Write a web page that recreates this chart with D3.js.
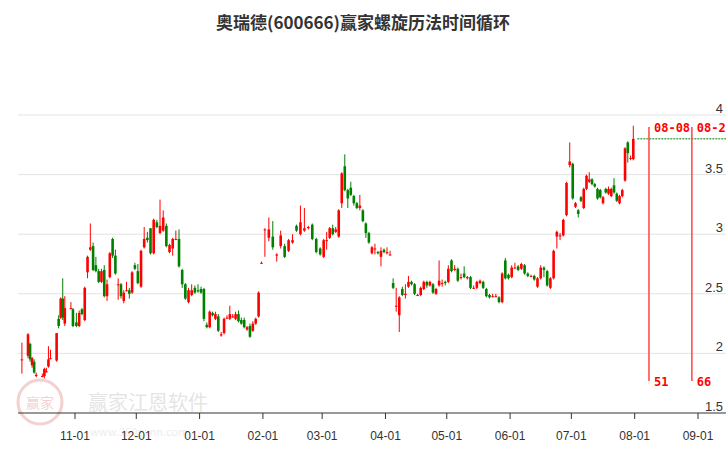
<!DOCTYPE html>
<html><head><meta charset="utf-8">
<script src="https://cdn.jsdelivr.net/npm/d3@7"></script>
<style>body{margin:0;background:#fff}svg{font-family:"Microsoft YaHei","Noto Sans CJK SC",sans-serif}</style>
</head><body><svg id="c" width="726" height="450"></svg>
<script>
const title = "奥瑞德(600666)赢家螺旋历法时间循环";
// candles: open close high low (one per trading day, ending 2024-07-31)
const candles = `1.95 1.95 2.09 1.83|1.98 2.16 2.17 1.96|2.08 1.95 2.09 1.93|1.90 1.96 1.97 1.88|1.93 1.84 1.95 1.83|1.81 1.82 1.84 1.80|1.81 1.81 1.83 1.80|1.81 1.87 1.88 1.79|1.85 1.85 1.88 1.84|1.89 1.95 2.06 1.88|1.96 1.96 2.03 1.95|1.94 2.17 2.17 1.93|2.29 2.23 2.32 2.21|2.30 2.46 2.47 2.29|2.46 2.30 2.63 2.28|2.25 2.38 2.48 2.23|2.38 2.38 2.43 2.37|2.37 2.23 2.38 2.22|2.26 2.23 2.34 2.22|2.23 2.34 2.36 2.22|2.37 2.33 2.38 2.32|2.28 2.55 2.56 2.27|2.68 2.81 2.82 2.63|2.87 2.89 3.09 2.86|2.90 2.70 2.93 2.69|2.74 2.69 2.81 2.68|2.69 2.60 2.71 2.59|2.60 2.69 2.71 2.59|2.70 2.48 2.74 2.47|2.48 2.58 2.62 2.44|2.64 2.84 2.85 2.63|2.96 2.82 2.97 2.80|2.82 2.67 2.87 2.66|2.58 2.58 2.63 2.45|2.58 2.48 2.59 2.46|2.44 2.51 2.53 2.42|2.53 2.53 2.60 2.52|2.53 2.50 2.55 2.46|2.51 2.68 2.69 2.50|2.74 2.71 2.76 2.70|2.69 2.59 2.75 2.58|2.56 2.86 2.87 2.55|2.89 2.96 3.06 2.88|2.97 2.95 3.02 2.93|3.05 2.84 3.05 2.83|2.84 3.12 3.13 2.83|3.10 3.06 3.12 3.05|3.01 3.07 3.29 3.00|3.03 3.14 3.20 3.02|3.07 2.90 3.09 2.89|2.85 2.91 2.92 2.84|2.88 2.96 2.97 2.82|2.96 2.96 3.03 2.95|2.96 2.73 3.04 2.72|2.70 2.58 2.71 2.55|2.58 2.46 2.59 2.45|2.43 2.53 2.55 2.42|2.49 2.53 2.58 2.48|2.55 2.51 2.57 2.50|2.53 2.52 2.58 2.51|2.54 2.51 2.56 2.50|2.54 2.29 2.55 2.27|2.24 2.22 2.26 2.21|2.22 2.35 2.36 2.21|2.34 2.32 2.35 2.31|2.29 2.33 2.35 2.28|2.31 2.19 2.33 2.18|2.15 2.16 2.18 2.14|2.17 2.29 2.30 2.16|2.30 2.30 2.32 2.29|2.29 2.33 2.40 2.28|2.31 2.31 2.33 2.30|2.29 2.33 2.35 2.28|2.33 2.27 2.36 2.26|2.28 2.25 2.30 2.24|2.28 2.22 2.30 2.21|2.20 2.22 2.23 2.19|2.23 2.14 2.25 2.13|2.19 2.25 2.27 2.18|2.25 2.29 2.30 2.24|2.31 2.51 2.52 2.30|2.76 2.76 2.77 2.75|3.04 3.04 3.05 2.81|2.97 3.04 3.14 2.94|2.98 2.89 3.11 2.87|2.82 2.83 2.84 2.77|2.90 2.99 3.03 2.88|2.90 2.81 2.92 2.80|2.86 2.95 2.96 2.85|2.93 2.95 3.00 2.92|3.07 3.03 3.08 3.02|3.00 3.10 3.24 2.99|3.03 3.05 3.22 3.02|3.05 3.06 3.07 3.04|3.08 2.96 3.09 2.95|2.96 2.85 2.97 2.84|2.88 2.83 2.89 2.82|2.81 2.95 2.96 2.80|2.95 2.95 3.02 2.87|2.97 3.05 3.06 2.96|3.05 3.00 3.08 2.99|3.02 3.04 3.06 3.01|2.98 3.20 3.21 2.97|3.26 3.51 3.52 3.22|3.57 3.37 3.67 3.36|3.37 3.30 3.38 3.22|3.39 3.33 3.44 3.32|3.32 3.26 3.33 3.24|3.26 3.22 3.27 3.21|3.22 3.24 3.33 3.20|3.20 3.11 3.21 3.10|3.09 3.01 3.10 2.97|3.01 2.93 3.02 2.92|2.84 2.89 2.90 2.83|2.88 2.88 2.92 2.83|2.85 2.84 2.86 2.83|2.81 2.86 2.89 2.73|2.87 2.85 2.88 2.84|2.84 2.85 2.89 2.83|2.83 2.83 2.86 2.82|2.59 2.55 2.63 2.54|2.40 2.40 2.55 2.35|2.32 2.47 2.48 2.18|2.54 2.49 2.56 2.48|2.49 2.50 2.58 2.46|2.56 2.60 2.65 2.55|2.60 2.58 2.61 2.57|2.58 2.50 2.59 2.49|2.49 2.49 2.50 2.48|2.49 2.55 2.56 2.48|2.54 2.60 2.61 2.53|2.60 2.57 2.61 2.55|2.57 2.60 2.61 2.56|2.58 2.51 2.59 2.50|2.50 2.54 2.55 2.49|2.57 2.61 2.78 2.56|2.59 2.59 2.62 2.56|2.60 2.59 2.61 2.57|2.60 2.71 2.74 2.59|2.78 2.69 2.79 2.68|2.70 2.71 2.74 2.69|2.71 2.61 2.72 2.60|2.64 2.64 2.67 2.62|2.67 2.64 2.73 2.63|2.63 2.64 2.65 2.62|2.64 2.55 2.65 2.54|2.55 2.55 2.57 2.54|2.55 2.60 2.61 2.54|2.59 2.61 2.62 2.58|2.60 2.55 2.61 2.54|2.54 2.48 2.55 2.47|2.49 2.47 2.50 2.46|2.48 2.48 2.50 2.47|2.48 2.48 2.50 2.47|2.47 2.43 2.48 2.42|2.43 2.67 2.68 2.42|2.78 2.63 2.80 2.62|2.66 2.63 2.67 2.62|2.64 2.72 2.74 2.63|2.72 2.72 2.76 2.71|2.73 2.70 2.74 2.69|2.71 2.75 2.76 2.70|2.74 2.67 2.75 2.66|2.67 2.65 2.68 2.64|2.65 2.65 2.66 2.64|2.65 2.62 2.66 2.61|2.56 2.63 2.64 2.55|2.63 2.72 2.74 2.62|2.72 2.70 2.73 2.64|2.69 2.57 2.70 2.56|2.55 2.63 2.64 2.54|2.63 2.86 2.87 2.62|2.98 3.02 3.03 2.88|2.99 2.99 3.01 2.95|2.99 3.12 3.13 2.98|3.16 3.43 3.44 3.15|3.58 3.61 3.77 3.56|3.59 3.30 3.60 3.29|3.23 3.26 3.27 3.22|3.20 3.17 3.21 3.14|3.31 3.28 3.32 3.27|3.22 3.38 3.39 3.21|3.38 3.49 3.50 3.37|3.44 3.46 3.52 3.43|3.46 3.42 3.47 3.41|3.42 3.40 3.43 3.39|3.38 3.30 3.39 3.29|3.37 3.31 3.38 3.30|3.26 3.31 3.32 3.25|3.38 3.35 3.39 3.34|3.34 3.38 3.40 3.33|3.32 3.38 3.39 3.31|3.41 3.35 3.47 3.34|3.34 3.28 3.35 3.27|3.26 3.32 3.33 3.25|3.32 3.37 3.38 3.31|3.45 3.72 3.73 3.44|3.77 3.68 3.78 3.60|3.64 3.64 3.66 3.62|3.63 3.80 3.91 3.62`.split("|").map(s=>s.split(" ").map(Number));
const yTicks = [1.5, 2, 2.5, 3, 3.5, 4];
const monthTicks = ["2023-11-01","2023-12-01","2024-01-01","2024-02-01","2024-03-01","2024-04-01","2024-05-01","2024-06-01","2024-07-01","2024-08-01","2024-09-01"];
const cycleDates = ["2024-08-08","2024-08-29"];
const cycleLabels = ["08-08","08-29"];
const cycleNums = ["51","66"];
const holidays = ["2024-01-01","2024-02-09","2024-02-12","2024-02-13","2024-02-14","2024-02-15","2024-02-16","2024-04-04","2024-04-05","2024-05-01","2024-05-02","2024-05-03","2024-06-10","2023-12-25"];

const parse = d3.utcParse("%Y-%m-%d"), fmt = d3.utcFormat("%Y-%m-%d");
const dates = [];
let d = parse("2024-07-31");
while (dates.length < candles.length) {
  const wd = d.getUTCDay();
  if (wd !== 0 && wd !== 6 && !holidays.includes(fmt(d))) dates.unshift(new Date(d));
  d = d3.utcDay.offset(d, -1);
}
const svg = d3.select("#c");
const x = d3.scaleUtc().domain([parse("2023-11-01"), parse("2024-09-01")]).range([75, 698]);
const y = d3.scaleLinear().domain([1.5, 4]).range([413, 115]);
const L = 18, R = 726;

// even spacing of trading days within each month
const byMonth = d3.group(dates, dd => fmt(d3.utcMonth.floor(dd)));
const xPos = dd => {
  const ms = d3.utcMonth.floor(dd), arr = byMonth.get(fmt(ms));
  const me = d3.utcMonth.offset(ms, 1);
  if (fmt(ms) === "2023-10-01") return x(dd);
  const k = arr.findIndex(v => +v === +dd);
  return x(ms) + (k + 0.5) / arr.length * (x(me) - x(ms));
};

// watermark
const wm = svg.append("g").attr("opacity",0.22);
wm.append("circle").attr("cx",40).attr("cy",402).attr("r",22).attr("fill","none").attr("stroke","#c33").attr("stroke-width",3);
wm.append("text").attr("x",40).attr("y",408).attr("text-anchor","middle").attr("font-size",14).attr("fill","#c33").text("赢家");
wm.append("text").attr("x",88).attr("y",410).attr("font-size",20).attr("fill","#888").text("赢家江恩软件");
wm.append("text").attr("x",90).attr("y",436).attr("font-size",11).attr("fill","#aaa").text("www.360gann.com");

svg.selectAll(".g").data(yTicks.slice(1)).join("line")
  .attr("x1",L).attr("x2",R).attr("y1",v=>y(v)).attr("y2",v=>y(v)).attr("stroke","#e3e3e3");
svg.selectAll(".yl").data(yTicks).join("text").attr("x",723).attr("y",v=>y(v)-2)
  .attr("text-anchor","end").attr("font-size",13).attr("fill","#333").attr("font-family","Arial,Liberation Sans,sans-serif").text(v=>v);

svg.append("text").attr("x",363).attr("y",29).attr("text-anchor","middle").attr("font-size",17).attr("font-weight","bold").attr("fill","#333").text(title);

const ax = svg.append("g").attr("transform","translate(0,413)");
ax.append("line").attr("x1",L).attr("x2",R).attr("stroke","#333");
monthTicks.forEach(m=>{
  const px = x(parse(m));
  ax.append("line").attr("x1",px).attr("x2",px).attr("y1",0).attr("y2",6).attr("stroke","#333");
  ax.append("text").attr("x",px).attr("y",27).attr("text-anchor","middle").attr("font-size",12).attr("fill","#333").attr("font-family","Arial,Liberation Sans,sans-serif").text(m.slice(5));
});

const cw = 2.6;
const g = svg.append("g");
candles.forEach((c,i)=>{
  const [o,cl,h,l] = c, px = xPos(dates[i]);
  const col = cl >= o ? "#ff0000" : "#008000";
  g.append("line").attr("x1",px).attr("x2",px).attr("y1",y(h)).attr("y2",y(l)).attr("stroke",col).attr("stroke-width",1);
  const top = y(Math.max(o,cl)), bh = Math.max(1, Math.abs(y(o)-y(cl)));
  g.append("rect").attr("x",px-cw/2).attr("y",top).attr("width",cw).attr("height",bh).attr("fill",col);
});
const last = candles[candles.length-1][1];
svg.append("line").attr("x1",xPos(dates[dates.length-1])+4).attr("x2",R).attr("y1",y(last)).attr("y2",y(last))
  .attr("stroke","#008000").attr("stroke-dasharray","2,1");

cycleDates.forEach((cd,i)=>{
  const px = x(parse(cd));
  svg.append("line").attr("x1",px).attr("x2",px).attr("y1",127).attr("y2",381).attr("stroke","#ff4444").attr("stroke-width",1.5);
  svg.append("text").attr("x",px+5).attr("y",132).attr("font-size",12).attr("font-weight","bold").attr("fill","#ff0000").attr("font-family","DejaVu Sans Mono,monospace").text(cycleLabels[i]);
  svg.append("text").attr("x",px+5).attr("y",386).attr("font-size",12).attr("font-weight","bold").attr("fill","#ff0000").attr("font-family","DejaVu Sans Mono,monospace").text(cycleNums[i]);
});
</script></body></html>
